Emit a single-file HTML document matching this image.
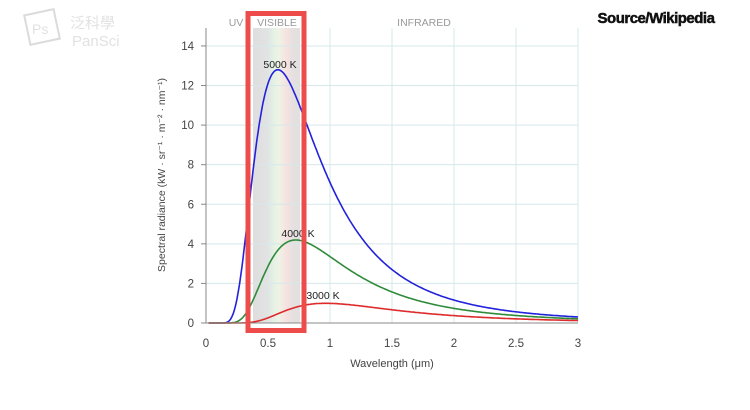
<!DOCTYPE html>
<html><head><meta charset="utf-8"><style>
body{margin:0;background:#fff;width:750px;height:405px;overflow:hidden;font-family:"Liberation Sans",sans-serif}
</style></head><body>
<svg id="s" width="750" height="405" xmlns="http://www.w3.org/2000/svg" font-family="Liberation Sans, sans-serif">
<defs>
<linearGradient id="vis" x1="0" x2="1" y1="0" y2="0">
<stop offset="0" stop-color="#dedede"/>
<stop offset="0.3" stop-color="#e2e2e2"/>
<stop offset="0.45" stop-color="#e4f2e4"/>
<stop offset="0.55" stop-color="#eef3e6"/>
<stop offset="0.7" stop-color="#f6e2e0"/>
<stop offset="0.85" stop-color="#e6e0e0"/>
<stop offset="1" stop-color="#e0e0e0"/>
</linearGradient>
</defs>
<rect x="253" y="28" width="47" height="295" fill="url(#vis)"/>
<g id="grid" stroke="#d6e8ea" stroke-width="1"></g>
<g id="curves" fill="none" stroke-width="1.6"></g>
<line x1="206" y1="28" x2="206" y2="323" stroke="#888"/>
<line x1="206" y1="323" x2="578" y2="323" stroke="#888"/>
<g id="ticks" font-size="11.5" fill="#444"></g>
<text x="236" y="26" font-size="10.5" fill="#999" text-anchor="middle">UV</text>
<text x="277" y="26" font-size="10.5" fill="#999" text-anchor="middle">VISIBLE</text>
<text x="424" y="26" font-size="10.5" fill="#999" text-anchor="middle">INFRARED</text>
<text x="280" y="68" font-size="10.5" fill="#222" text-anchor="middle">5000 K</text>
<text x="298" y="237" font-size="10.5" fill="#222" text-anchor="middle">4000 K</text>
<text x="323" y="299" font-size="10.5" fill="#222" text-anchor="middle">3000 K</text>
<text x="392" y="367" font-size="11" fill="#444" text-anchor="middle">Wavelength (μm)</text>
<text transform="translate(165,175) rotate(-90)" font-size="10.5" fill="#444" text-anchor="middle">Spectral radiance (kW · sr⁻¹ · m⁻² · nm⁻¹)</text>
<rect x="248" y="13.5" width="56" height="317" fill="none" stroke="#ee4b4b" stroke-width="5"/>
<text x="656" y="23" font-size="15" font-weight="bold" fill="#111" text-anchor="middle" stroke="#111" stroke-width="0.5" letter-spacing="-0.5">Source/Wikipedia</text>
<g opacity="0.35" fill="none" stroke="#999">
<rect x="27" y="12" width="30" height="30" stroke-width="2" transform="rotate(-12 42 27)"/>
<text x="32" y="34" font-size="14" fill="#aaa" stroke="none">Ps</text>
<text x="70" y="28" font-size="15" fill="#aaa" stroke="none" font-family="Noto Sans CJK TC, sans-serif">泛科學</text>
<text x="72" y="46" font-size="15" fill="#aaa" stroke="none">PanSci</text>
</g>
</svg>
<script>
var ns="http://www.w3.org/2000/svg";
function X(v){return 206+v*124}function Y(v){return 323-v*19.79}
function el(p,t,a,txt){var e=document.createElementNS(ns,t);for(var k in a)e.setAttribute(k,a[k]);if(txt)e.textContent=txt;document.getElementById(p).appendChild(e);}
for(var i=1;i<=6;i++)el("grid","line",{x1:X(i*0.5),y1:28,x2:X(i*0.5),y2:323});
for(var j=1;j<=7;j++)el("grid","line",{x1:206,y1:Y(j*2),x2:578,y2:Y(j*2)});
for(var j=0;j<=7;j++){el("ticks","text",{x:194,y:Y(j*2)+4,"text-anchor":"end"},String(j*2));el("ticks","line",{x1:201,y1:Y(j*2),x2:206,y2:Y(j*2),stroke:"#888"});}
var xl=["0","0.5","1","1.5","2","2.5","3"];
for(var i=0;i<=6;i++)el("ticks","text",{x:X(i*0.5),y:347,"text-anchor":"middle"},xl[i]);
function B(l,T){var m=l*1e-6;return 1.191e-16/Math.pow(m,5)/(Math.exp(1.4388e-2/(m*T))-1)/1e12;}
[[5000,"#2222dd"],[4000,"#2e8b3a"],[3000,"#dd2a2a"]].forEach(function(c){
var d="";for(var l=0.02;l<=3.0001;l+=0.01){d+=(d?"L":"M")+X(l).toFixed(1)+","+Y(B(l,c[0])).toFixed(1);}
el("curves","path",{d:d,stroke:c[1]});});
</script>
</body></html>
